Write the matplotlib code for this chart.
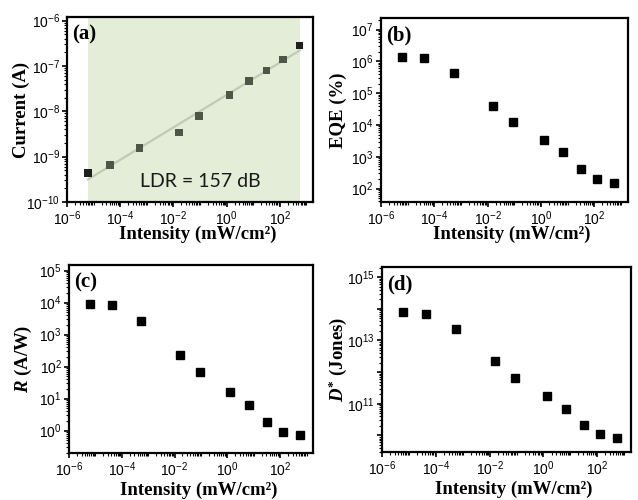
import numpy as np
import matplotlib
matplotlib.use("Agg")
import matplotlib.pyplot as plt
from matplotlib.ticker import FixedLocator, LogLocator, FuncFormatter, NullFormatter

plt.rcParams['mathtext.fontset'] = 'custom'
plt.rcParams['mathtext.rm'] = 'Liberation Serif:bold'
plt.rcParams['mathtext.it'] = 'Liberation Serif:bold:italic'
plt.rcParams['mathtext.bf'] = 'Liberation Serif:bold'

# ---- data ----
intensity = [6.2e-6, 4.2e-5, 5.4e-4, 1.6e-2, 9.1e-2, 1.3, 6.8, 32, 129, 550]  # mW/cm^2
current = [4.3e-10, 6.6e-10, 1.55e-9, 3.4e-9, 7.9e-9, 2.3e-8, 4.7e-8, 8.0e-8, 1.4e-7, 2.8e-7]
eqe = [1.4e6, 1.24e6, 4.3e5, 4.0e4, 1.27e4, 3.4e3, 1.37e3, 400, 208, 155]
resp = [9.3e3, 8.3e3, 2.7e3, 225, 66, 16, 6.3, 1.8, 0.93, 0.71]
dstar = [7.9e13, 7.0e13, 2.3e13, 2.2e12, 6.7e11, 1.75e11, 6.9e10, 2.2e10, 1.1e10, 8.5e9]
x_major = [1e-6, 1e-4, 1e-2, 1e0, 1e2]
ldr_text = "LDR = 157 dB"

fig = plt.figure(figsize=(6.38, 5.0), dpi=100)

rects = {
    'a': [0.105, 0.596, 0.386, 0.370],
    'b': [0.597, 0.596, 0.387, 0.368],
    'c': [0.108, 0.094, 0.383, 0.376],
    'd': [0.599, 0.096, 0.390, 0.370],
}
ylims = {
    'a': (1e-10, 1.2e-6),
    'b': (38, 2.3e7),
    'c': (0.2, 1.5e5),
    'd': (3e9, 2.1e15),
}
ylabels = {
    'a': 'Current (A)',
    'b': 'EQE (%)',
    'c': '$R$ (A/W)',
    'd': '$D^{*}$ (Jones)',
}
ylab_x = {'a': -0.15, 'b': -0.138, 'c': -0.143, 'd': -0.135}
xlab_y = {'a': -0.13, 'b': -0.13, 'c': -0.155, 'd': -0.155}

serif = 'Liberation Serif'
sans = 'Liberation Sans'


def powfmt(v, pos):
    e = int(np.round(np.log10(v)))
    return r'$\mathdefault{10^{%d}}$' % e


def oddfmt(v, pos):
    e = int(np.round(np.log10(v)))
    if e % 2 == 1:
        return r'$\mathdefault{10^{%d}}$' % e
    return ''


def style(ax, key):
    ax.set_xscale('log')
    ax.set_yscale('log')
    ax.set_xlim(1e-6, 1.8e3)
    ax.set_ylim(*ylims[key])
    ax.xaxis.set_major_locator(FixedLocator(x_major))
    ax.xaxis.set_minor_locator(LogLocator(base=10, subs=np.arange(1, 10), numticks=30))
    ax.xaxis.set_major_formatter(FuncFormatter(powfmt))
    ax.xaxis.set_minor_formatter(NullFormatter())
    ax.yaxis.set_major_locator(LogLocator(base=10, numticks=30))
    ax.yaxis.set_minor_locator(LogLocator(base=10, subs=np.arange(2, 10), numticks=30))
    ax.yaxis.set_major_formatter(FuncFormatter(oddfmt if key == 'd' else powfmt))
    ax.yaxis.set_minor_formatter(NullFormatter())
    ax.tick_params(which='major', direction='out', length=3.5, width=1.2, pad=1.5,
                   labelsize=10, top=False, right=False)
    ax.tick_params(which='minor', direction='out', length=2, width=0.8,
                   top=False, right=False)
    for lab in ax.get_xticklabels() + ax.get_yticklabels():
        lab.set_fontfamily(sans)
    for s in ax.spines.values():
        s.set_linewidth(1.6)
    ax.set_xlabel('Intensity (mW/cm²)', fontfamily=serif, fontweight='bold', fontsize=13.5)
    ax.set_ylabel(ylabels[key], fontfamily=serif, fontweight='bold', fontsize=13.5)
    ax.xaxis.set_label_coords(0.53, xlab_y[key])
    ax.yaxis.set_label_coords(ylab_x[key], 0.5)
    ax.text(0.02, 0.96, '(%s)' % key, transform=ax.transAxes, ha='left', va='top',
            fontfamily=serif, fontweight='bold', fontsize=15)


# (a)
ax = fig.add_axes(rects['a'])
style(ax, 'a')
ax.axvspan(intensity[0], intensity[-1], color='#e3edd7', zorder=0, lw=0)
lx = np.log10(intensity)
ly = np.log10(current)
k, b = np.polyfit(lx, ly, 1)
xf = np.array([lx[0], lx[-1]])
ax.plot(10 ** xf, 10 ** (k * xf + b), color='#c2c9b7', lw=1.6, zorder=2)
cols = ['#1e1e1e'] + ['#4e5648'] * (len(intensity) - 2) + ['#1e1e1e']
ax.scatter(intensity, current, marker='s', s=30, c=cols, zorder=3, linewidths=0)
ax.text(0.54, 0.11, ldr_text, transform=ax.transAxes, ha='center', va='center',
        fontfamily='Lato', fontsize=14, color='#1a1a1a')

# (b)
ax = fig.add_axes(rects['b'])
style(ax, 'b')
ax.plot(intensity, eqe, 's', color='black', ms=5.5, ls='none')

# (c)
ax = fig.add_axes(rects['c'])
style(ax, 'c')
ax.plot(intensity, resp, 's', color='black', ms=5.5, ls='none')

# (d)
ax = fig.add_axes(rects['d'])
style(ax, 'd')
ax.plot(intensity, dstar, 's', color='black', ms=5.5, ls='none')

fig.savefig('out.png', dpi=100)
